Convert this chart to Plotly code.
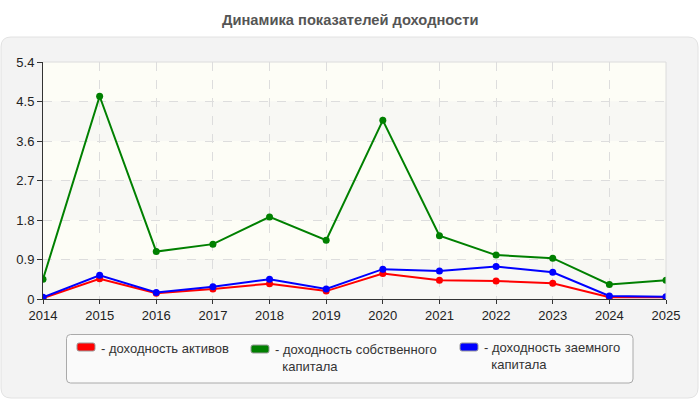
import plotly.graph_objects as go

years = [2014, 2015, 2016, 2017, 2018, 2019, 2020, 2021, 2022, 2023, 2024, 2025]
roa = [0.02, 0.46, 0.13, 0.23, 0.35, 0.18, 0.58, 0.43, 0.41, 0.36, 0.04, 0.04]
roe = [0.45, 4.62, 1.08, 1.25, 1.87, 1.34, 4.07, 1.44, 1.00, 0.93, 0.33, 0.43]
rod = [0.04, 0.54, 0.15, 0.28, 0.45, 0.23, 0.68, 0.64, 0.74, 0.61, 0.07, 0.05]
names = [["- доходность активов"],
         ["- доходность собственного", "капитала"],
         ["- доходность заемного", "капитала"]]
colors = ["#ff0000", "#008000", "#0000ff"]
yticks = [0, 0.9, 1.8, 2.7, 3.6, 4.5, 5.4]
title = "Динамика показателей доходности"

W, H = 700, 400
L, R, T, B = 43, 666, 62, 299


def px(x):
    return (x - L) / (R - L)


def py(y):
    return (B - y) / (B - T)


fig = go.Figure()
for idx in [1, 0, 2]:
    vals = [roa, roe, rod][idx]
    c = colors[idx]
    fig.add_trace(go.Scatter(x=years, y=vals, mode="lines+markers",
                             line=dict(color=c, width=2),
                             marker=dict(color=c, size=7),
                             showlegend=False, hoverinfo="skip"))


def rounded(x0p, y0p, x1p, y1p, r):
    x0, y0, x1, y1 = px(x0p), py(y0p), px(x1p), py(y1p)
    rx, ry = r / (R - L), r / (B - T)
    return (f"M {x0+rx},{y0} L {x1-rx},{y0} Q {x1},{y0} {x1},{y0-ry} "
            f"L {x1},{y1+ry} Q {x1},{y1} {x1-rx},{y1} L {x0+rx},{y1} "
            f"Q {x0},{y1} {x0},{y1+ry} L {x0},{y0-ry} Q {x0},{y0} {x0+rx},{y0} Z")


shapes = []
shapes.append(dict(type="path", path=rounded(1, 37, 698, 398, 10), xref="paper", yref="paper",
                   fillcolor="#f3f3f3", line=dict(color="#e2e2e2", width=1), layer="below"))
for i in range(len(yticks) - 1):
    shapes.append(dict(type="rect", xref="paper", yref="y", x0=0, x1=1,
                       y0=yticks[i], y1=yticks[i + 1], layer="below", line=dict(width=0),
                       fillcolor="#f8f8f4" if i % 2 == 0 else "#fdfdf6"))
shapes.append(dict(type="line", xref="paper", yref="paper", x0=0, x1=1, y0=1, y1=1,
                   line=dict(color="#dcdcdc", width=1)))
shapes.append(dict(type="line", xref="paper", yref="paper", x0=1, x1=1, y0=0, y1=1,
                   line=dict(color="#dcdcdc", width=1)))
shapes.append(dict(type="path", path=rounded(66.5, 334.5, 633, 383, 4), xref="paper", yref="paper",
                   fillcolor="#fafafa", line=dict(color="#aaaaaa", width=1)))

annotations = [dict(text=title, xref="paper", yref="paper", x=px(350), y=py(20),
                    showarrow=False, xanchor="center", yanchor="middle",
                    font=dict(family="Arial, Liberation Sans", size=14.7,
                              color="#555555", weight="bold"))]

# (swatch x, swatch y, text x, text-block centre y)
leg = [(77, 343, 99, 348), (251, 345, 273, 358), (460, 343, 482, 356)]
for (sx, sy, tx, ty), c, lines in zip(leg, colors, names):
    shapes.append(dict(type="path", path=rounded(sx, sy, sx + 18, sy + 8, 2), xref="paper", yref="paper",
                       fillcolor=c, line=dict(color="#999999", width=1)))
    text = "<br>".join([lines[0]] + ["\u00a0\u00a0" + s for s in lines[1:]])
    annotations.append(dict(text=text, xref="paper", yref="paper", x=px(tx), y=py(ty),
                            showarrow=False, xanchor="left", yanchor="middle", align="left",
                            font=dict(family="Arial, Liberation Sans", size=13, color="#333333")))

fig.update_layout(
    width=W, height=H,
    margin=dict(l=L, r=W - R, t=T, b=H - B),
    paper_bgcolor="#ffffff", plot_bgcolor="rgba(0,0,0,0)",
    shapes=shapes, annotations=annotations,
    font=dict(family="Arial, Liberation Sans", size=13, color="#222222"),
    xaxis=dict(range=[2014, 2025], tickmode="array", tickvals=years,
               ticktext=[str(y) for y in years],
               showgrid=True, gridcolor="#dddddd", griddash="dash", gridwidth=1,
               showline=True, linecolor="#333333", linewidth=1,
               ticks="outside", ticklen=4, tickcolor="#333333", zeroline=False,
               fixedrange=True),
    yaxis=dict(range=[0, 5.4], tickmode="array", tickvals=yticks,
               ticktext=["0", "0.9", "1.8", "2.7", "3.6", "4.5", "5.4"],
               showgrid=True, gridcolor="#dddddd", griddash="dash", gridwidth=1,
               showline=True, linecolor="#333333", linewidth=1,
               ticks="outside", ticklen=5, tickcolor="#333333", zeroline=False,
               fixedrange=True),
)
fig.write_html("out.html")
